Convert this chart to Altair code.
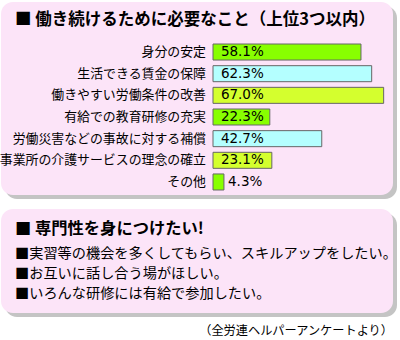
import altair as alt
import pandas as pd

categories = ["身分の安定", "生活できる賃金の保障", "働きやすい労働条件の改善",
              "有給での教育研修の充実", "労働災害などの事故に対する補償",
              "事業所の介護サービスの理念の確立", "その他"]
values = [58.1, 62.3, 67.0, 22.3, 42.7, 23.1, 4.3]
groups = ["a", "b", "c", "a", "b", "c", "a"]
group_colors = ["#88FF00", "#B4FFFF", "#D4FF2E"]

title1 = "■ 働き続けるために必要なこと（上位3つ以内）"
title2 = "■ 専門性を身につけたい!"
notes = ["■実習等の機会を多くしてもらい、スキルアップをしたい。",
         "■お互いに話し合う場がほしい。",
         "■いろんな研修には有給で参加したい。"]
source = "（全労連ヘルパーアンケートより）"

JP = "Noto Sans CJK JP"
df = pd.DataFrame({"category": categories, "value": values, "group": groups})
df["label"] = [f"{v:.1f}%" for v in values]

one = alt.Data(values=[{}])
xs = alt.Scale(domain=[0, 100], range=[213, 467.7])
ys = alt.Scale(domain=categories, range=[41.2, 192.8], paddingInner=0.26, paddingOuter=0.13)
X = lambda f: alt.X(f, scale=xs, axis=None)
Y = alt.Y("category:N", sort=categories, scale=ys, axis=None)

def panel(x1, x2, y1, y2, color):
    return alt.Chart(one).mark_rect(cornerRadius=12, color=color).encode(
        x=alt.value(x1), x2=alt.value(x2), y=alt.value(y1), y2=alt.value(y2))

def text(s, x, y, size, bold=False, align="left", font=JP, color="#000"):
    return alt.Chart(one).mark_text(
        text=s, align=align, baseline="middle", fontSize=size, font=font,
        fontWeight="bold" if bold else "normal", color=color
    ).encode(x=alt.value(x), y=alt.value(y))

layers = [
    panel(5, 397, 6, 199, "#C4C4C4"),
    panel(1, 393, 2, 195, "#FCE4F8"),
    panel(5, 397, 213, 317, "#C4C4C4"),
    panel(1, 393, 209, 313, "#FCE4F8"),
    text(title1, 15, 20, 16.5, bold=True),
    text(title2, 15, 229, 16.3, bold=True),
]
for i, n in enumerate(notes):
    layers.append(text(n, 15, 254 + 20 * i, 14.2))
layers.append(text(source, 393, 331, 12.2, align="right"))

base = alt.Chart(df)
bars = base.mark_bar(stroke="#666666", strokeWidth=1).encode(
    x=X("value:Q"), y=Y,
    color=alt.Color("group:N", scale=alt.Scale(domain=["a", "b", "c"], range=group_colors), legend=None))
cat_labels = base.mark_text(align="right", baseline="middle", fontSize=12.9, font=JP, color="#000").encode(
    x=alt.value(206), y=Y, text="category:N")
pct = base.transform_calculate(
    lx="datum.value < 10 ? datum.value + 1.6 : 3.1"
).mark_text(align="left", baseline="middle", fontSize=13.5, font="DejaVu Sans", color="#000").encode(
    x=X("lx:Q"), y=Y, text="label:N")

chart = alt.layer(*layers, bars, cat_labels, pct).properties(
    width=400, height=340, padding=0, autosize=alt.AutoSizeParams(type="none"),
    background="white"
).configure_view(strokeWidth=0)

chart.save("out.html", embed_options={"renderer": "svg", "actions": False})
